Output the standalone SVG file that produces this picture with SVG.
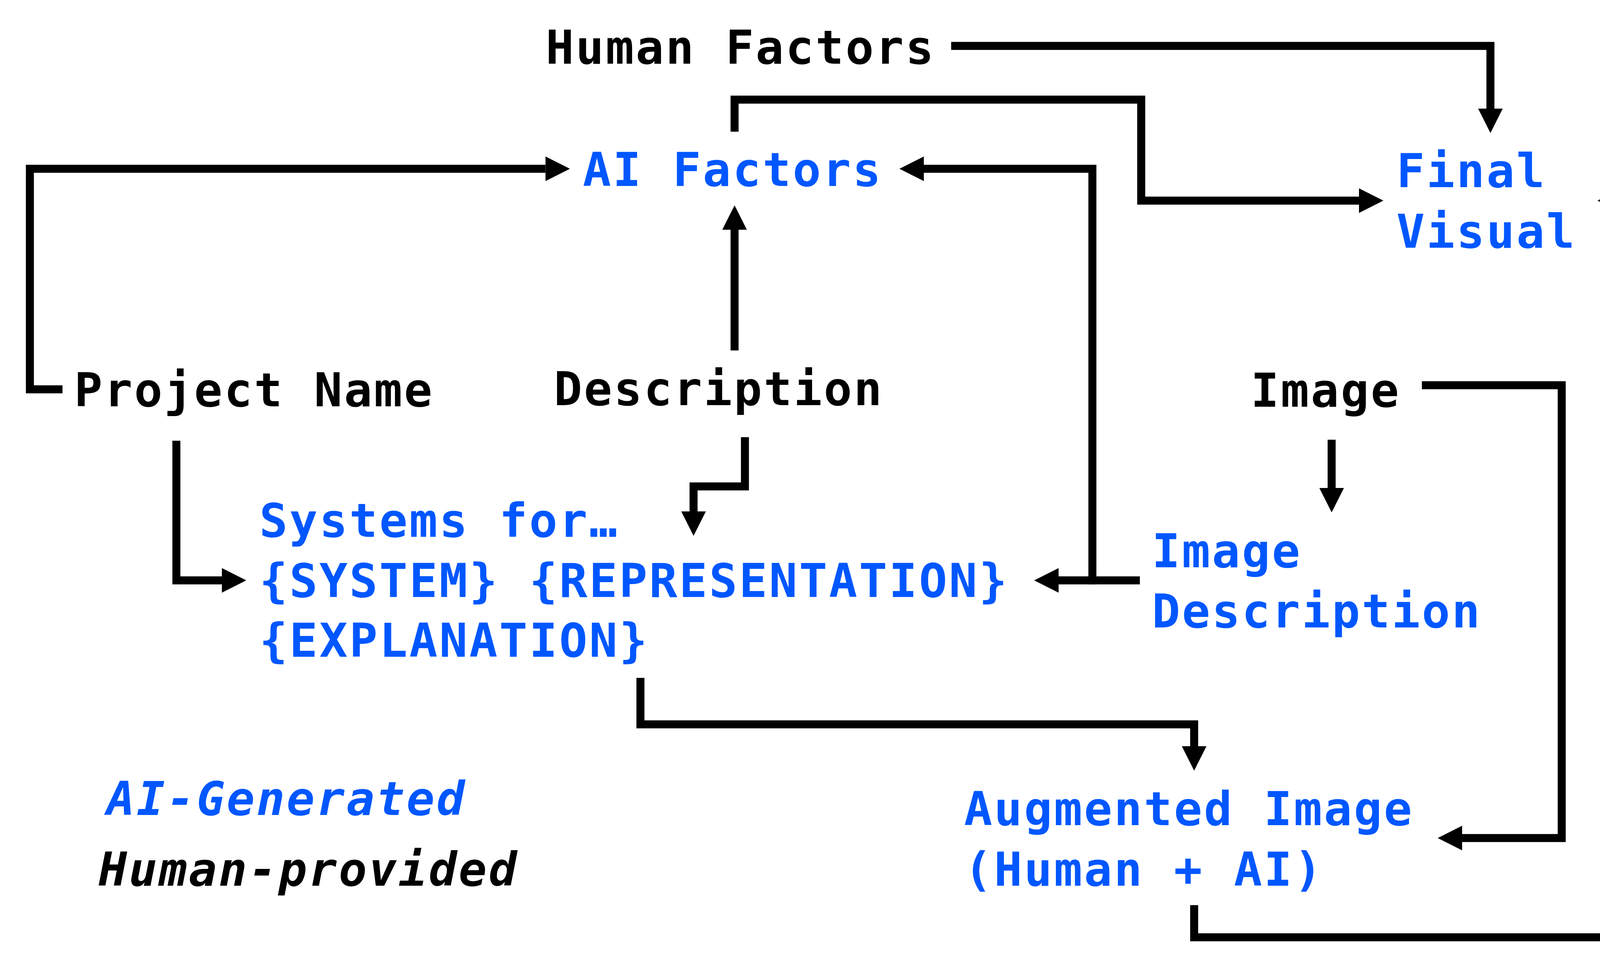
<svg xmlns="http://www.w3.org/2000/svg" width="4400" height="2493" viewBox="0 0 4400 2493">
<style>
.t{font-family:"DejaVu Sans Mono","Liberation Mono",monospace;font-weight:bold;font-size:120px;letter-spacing:4.5px}
.hu{fill:#000}
.ai{fill:#0057ff}
.it{font-style:italic}
.c{fill:none;stroke:#000;stroke-width:20.5;stroke-linejoin:miter;stroke-linecap:butt;marker-end:url(#ah)}
</style>
<defs>
<marker id="ah" markerUnits="userSpaceOnUse" markerWidth="64" markerHeight="64" viewBox="0 -32 64 64" refX="0" refY="0" orient="auto" overflow="visible">
<path d="M0,-31.5 L62.5,0 L0,31.5 Z" fill="#000"/>
</marker>
</defs>
<rect width="4400" height="2493" fill="#fff"/>
<g id="connectors">
<path class="c" d="M2435,117.5 H3815.5 V278"/>
<path class="c" d="M1880.5,337 V255 H2921.5 V513.5 H3479"/>
<path class="c" d="M160,996.5 H76.5 V432 H1396.5"/>
<path class="c" d="M1880.5,897 V588"/>
<path class="c" d="M2918,1485.5 H2710"/>
<path class="c" d="M2796.5,1495.7 V432 H2365"/>
<path class="c" d="M451.5,1128 V1485.5 H568"/>
<path class="c" d="M1907,1119 V1245 H1775.5 V1309"/>
<path class="c" d="M3409,1125.6 V1249"/>
<path class="c" d="M3640,986 H3998 V2145 H3743"/>
<path class="c" d="M1639.5,1735 V1854 H3057 V1910"/>
<path class="c" d="M3057,2316.8 V2399 H4240.5 V513.5 H4152"/>
</g>
<g id="human-factors"><text class="t hu" x="1397" y="162.6">Human Factors</text></g>
<g id="ai-factors"><text class="t ai" x="1492" y="476">AI Factors</text></g>
<g id="final-visual"><text class="t ai" x="3575" y="479">Final</text><text class="t ai" x="3575" y="634">Visual</text></g>
<g id="project-name"><text class="t hu" x="190" y="1040">Project Name</text></g>
<g id="description"><text class="t hu" x="1418" y="1037">Description</text></g>
<g id="image"><text class="t hu" x="3202" y="1041">Image</text></g>
<g id="systems"><text class="t ai" x="664" y="1373.7">Systems for…</text><text class="t ai" x="664" y="1527.6">{SYSTEM} {REPRESENTATION}</text><text class="t ai" x="664" y="1681.4">{EXPLANATION}</text></g>
<g id="image-description"><text class="t ai" x="2949" y="1451.9">Image</text><text class="t ai" x="2949" y="1605.7">Description</text></g>
<g id="augmented-image"><text class="t ai" x="2468" y="2112">Augmented Image</text><text class="t ai" x="2468" y="2266.6">(Human + AI)</text></g>
<g id="legend"><text class="t ai it" x="273" y="2086.4">AI-Generated</text><text class="t hu it" x="253" y="2267.4">Human-provided</text></g>
</svg>
